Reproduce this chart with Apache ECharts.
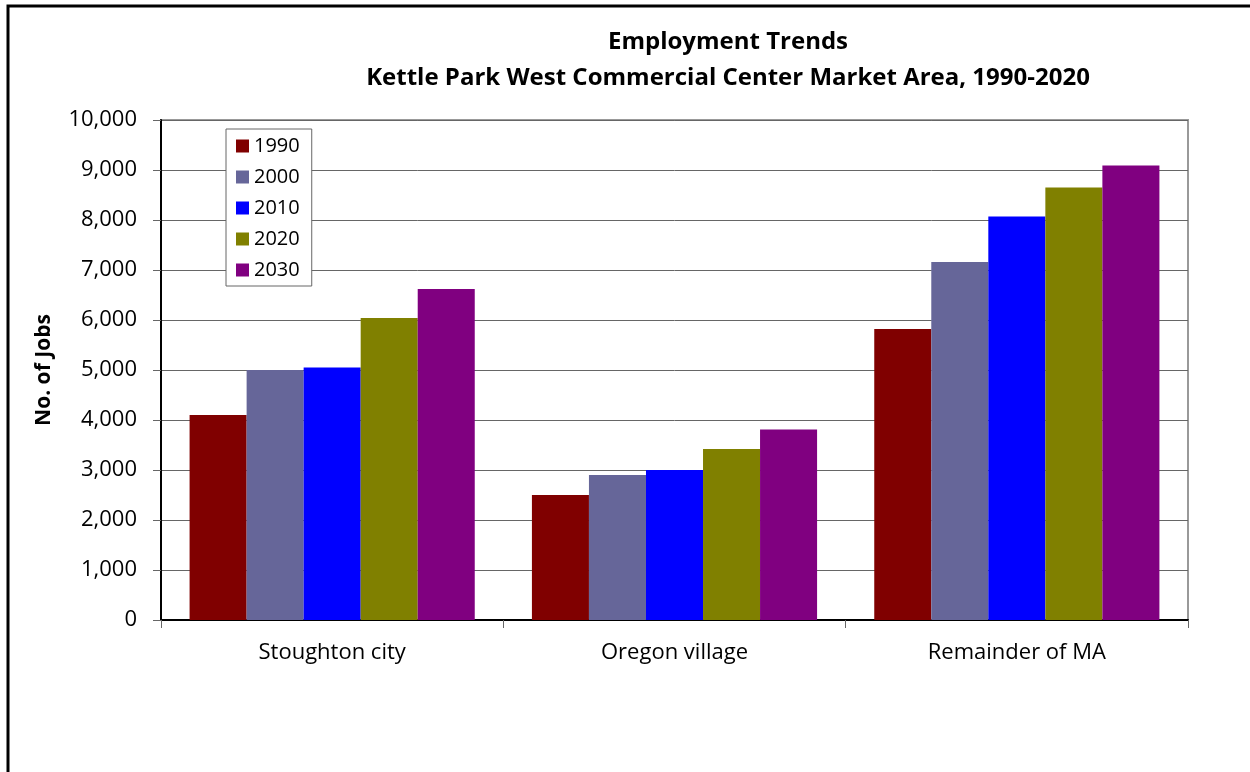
<!DOCTYPE html>
<html>
<head>
<meta charset="utf-8">
<script src="https://cdn.jsdelivr.net/npm/echarts@6/dist/echarts.min.js"></script>
<style>
html,body{margin:0;padding:0;background:#fff;}
#main{width:1250px;height:772px;}
</style>
</head>
<body>
<div id="main"></div>
<script>
const categories = ['Stoughton city', 'Oregon village', 'Remainder of MA'];
const seriesNames = ['1990', '2000', '2010', '2020', '2030'];
const jobs1990 = [4100, 2500, 5820];
const jobs2000 = [5000, 2900, 7160];
const jobs2010 = [5050, 3000, 8070];
const jobs2020 = [6040, 3420, 8650];
const jobs2030 = [6620, 3810, 9090];
const seriesValues = [jobs1990, jobs2000, jobs2010, jobs2020, jobs2030];
const seriesColors = ['#800000', '#666699', '#0000FF', '#808000', '#800080'];
const titleLines = ['Employment Trends', 'Kettle Park West Commercial Center Market Area, 1990-2020'];
const yAxisTitle = 'No. of Jobs';

const FONT = '"Open Sans", "Liberation Sans", sans-serif';
const chart = echarts.init(document.getElementById('main'), null, {renderer: 'canvas'});

chart.setOption({
  animation: false,
  backgroundColor: '#fff',
  textStyle: {fontFamily: FONT},
  title: {
    text: titleLines.join('\n'),
    left: 723,
    top: 19,
    textAlign: 'center',
    textStyle: {fontFamily: FONT, fontWeight: 'bold', fontSize: 24, lineHeight: 36, color: '#000'}
  },
  legend: {
    orient: 'vertical',
    left: 226,
    top: 129,
    padding: [7, 12, 6, 10],
    itemGap: 11,
    itemWidth: 13,
    itemHeight: 13,
    icon: 'rect',
    borderColor: '#666',
    borderWidth: 1,
    backgroundColor: '#fff',
    textStyle: {fontFamily: FONT, fontSize: 20, lineHeight: 20, color: '#000'},
    data: seriesNames
  },
  graphic: [{
    type: 'polyline',
    shape: {points: [[8, 800], [8, 6], [1260, 6]]},
    style: {stroke: '#000', lineWidth: 3, fill: null},
    z: 100
  }],
  grid: {
    left: 161, top: 120, right: 62, bottom: 152,
    show: true, borderColor: '#999', borderWidth: 2, backgroundColor: 'transparent',
    containLabel: false
  },
  xAxis: {
    type: 'category',
    data: categories,
    axisLine: {lineStyle: {color: '#000', width: 2}},
    axisTick: {show: true, alignWithLabel: false, length: 8, lineStyle: {color: '#666'}},
    axisLabel: {fontFamily: FONT, fontSize: 22, color: '#000', margin: 22}
  },
  yAxis: {
    type: 'value',
    min: 0, max: 10000, interval: 1000,
    name: yAxisTitle,
    nameLocation: 'middle',
    nameGap: 106,
    nameTextStyle: {fontFamily: FONT, fontSize: 21, fontWeight: 'bold', color: '#000'},
    axisLine: {show: true, lineStyle: {color: '#000', width: 2}},
    axisTick: {show: true, length: 8, lineStyle: {color: '#666'}},
    axisLabel: {
      fontFamily: FONT, fontSize: 22, color: '#000', margin: 24,
      formatter: v => v.toLocaleString('en-US')
    },
    splitLine: {show: true, lineStyle: {color: '#666', width: 1}}
  },
  series: seriesNames.map((name, i) => ({
    name: name,
    type: 'bar',
    data: seriesValues[i],
    barGap: '0%',
    barCategoryGap: '16.7%',
    itemStyle: {color: seriesColors[i]}
  }))
});
</script>
</body>
</html>
